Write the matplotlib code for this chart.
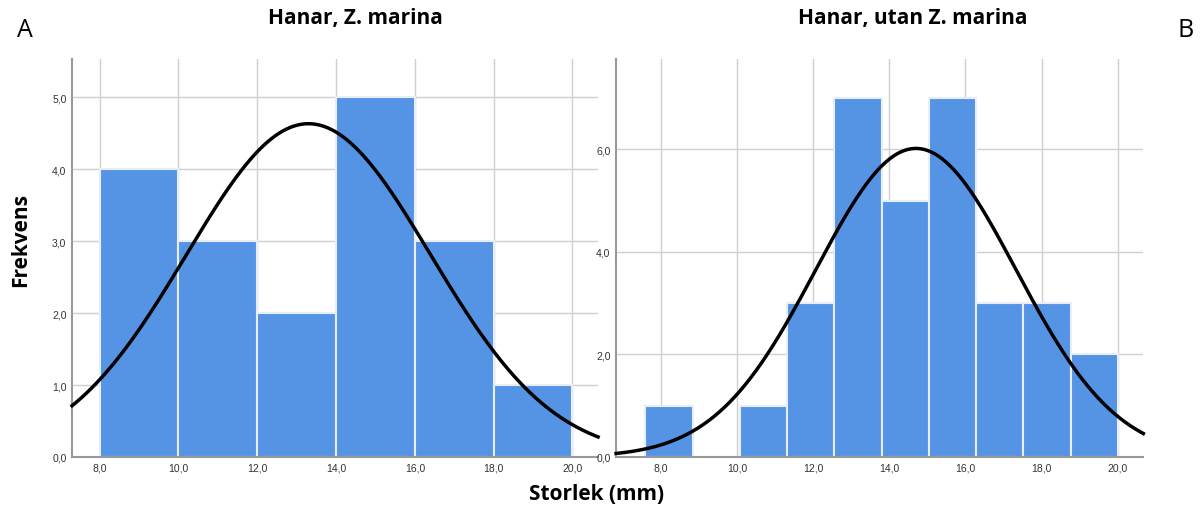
import matplotlib.pyplot as plt
import numpy as np

plt.rcParams['font.family'] = ['Liberation Sans', 'DejaVu Sans']

# panel A: Hanar, Z. marina
kanter_a = [8, 10, 12, 14, 16, 18, 20]
frekv_a = [4, 3, 2, 5, 3, 1]
medel_a = 13.3
sd_a = 3.1

# panel B: Hanar, utan Z. marina
kanter_b = [7.6, 8.84, 10.08, 11.32, 12.56, 13.8, 15.04, 16.28, 17.52, 18.76, 20.0]
frekv_b = [1, 0, 1, 3, 7, 5, 7, 3, 3, 2]
medel_b = 14.7
sd_b = 2.63

xticks = [8, 10, 12, 14, 16, 18, 20]
yticks_a = [0, 1, 2, 3, 4, 5]
yticks_b = [0, 2, 4, 6]

farg = '#5594e4'
grid = '#d0d0d0'


def komma(v):
    return ('%.1f' % v).replace('.', ',')


def panel(ax, kanter, frekv, medel, sd, yticks, xlim, ylim):
    kanter = np.array(kanter)
    bredd = np.diff(kanter)
    ax.bar(kanter[:-1], frekv, width=bredd, align='edge', color=farg,
           edgecolor='#e8eef6', linewidth=1.5, zorder=2)
    n = sum(frekv)
    x = np.linspace(xlim[0], xlim[1], 400)
    y = n * bredd[0] / (sd * np.sqrt(2 * np.pi)) * np.exp(-0.5 * ((x - medel) / sd) ** 2)
    ax.plot(x, y, color='black', lw=2.5, zorder=3, clip_on=False)
    ax.set_xlim(xlim)
    ax.set_ylim(ylim)
    ax.set_xticks(xticks)
    ax.set_xticklabels([komma(v) for v in xticks], fontsize=7.5)
    ax.set_yticks(yticks)
    ax.set_yticklabels([komma(v) for v in yticks], fontsize=7.5)
    ax.tick_params(length=0, pad=4, colors='#333333')
    ax.grid(True, color=grid, lw=1, zorder=0)
    ax.set_axisbelow(True)
    for s in ['top', 'right']:
        ax.spines[s].set_visible(False)
    for s in ['left', 'bottom']:
        ax.spines[s].set_color('#999999')
        ax.spines[s].set_linewidth(1.5)


fig = plt.figure(figsize=(12.01, 5.10), dpi=100)
ax1 = fig.add_axes([0.06, 0.102, 0.438, 0.780])
ax2 = fig.add_axes([0.513, 0.102, 0.439, 0.780])

panel(ax1, kanter_a, frekv_a, medel_a, sd_a, yticks_a, (7.3, 20.65), (0, 5.53))
panel(ax2, kanter_b, frekv_b, medel_b, sd_b, yticks_b, (6.83, 20.67), (0, 7.76))

fig.text(0.296, 0.963, 'Hanar, Z. marina', fontsize=15, fontweight='bold',
         family='Open Sans', va='center', ha='center')
fig.text(0.760, 0.963, 'Hanar, utan Z. marina', fontsize=15, fontweight='bold',
         family='Open Sans', va='center', ha='center')
fig.text(0.021, 0.94, 'A', fontsize=18, family='Open Sans', va='center', ha='center')
fig.text(0.987, 0.94, 'B', fontsize=18, family='Open Sans', va='center', ha='center')
fig.text(0.017, 0.53, 'Frekvens', rotation=90, fontsize=15, fontweight='bold',
         family='Open Sans', va='center', ha='center')
fig.text(0.497, 0.03, 'Storlek (mm)', fontsize=15, fontweight='bold',
         family='Open Sans', va='center', ha='center')

fig.savefig('out.png', dpi=100)
